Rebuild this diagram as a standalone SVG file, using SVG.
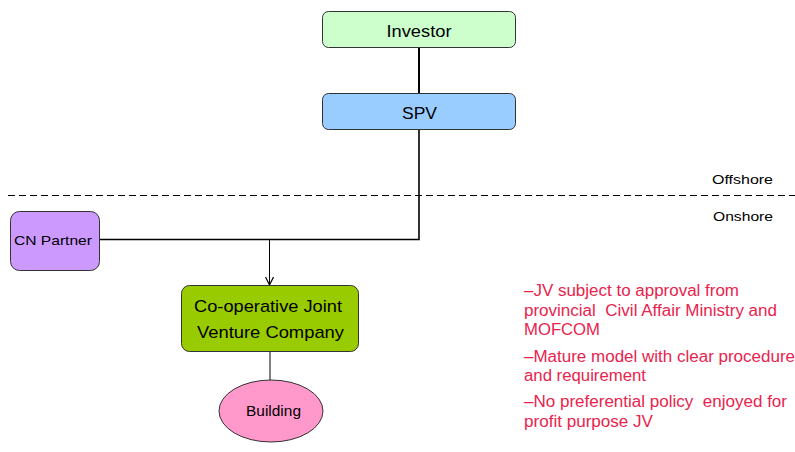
<svg xmlns="http://www.w3.org/2000/svg" width="795" height="452" viewBox="0 0 795 452">
  <style>
    .box { stroke: #333333; stroke-width: 1; }
    .lbl { font-family: "Liberation Sans", Arial, sans-serif; fill: #000000; text-anchor: middle; }
    .note { font-family: "Liberation Sans", Arial, sans-serif; fill: #e8244e; font-size: 16px; white-space: pre; }
    .zone { font-family: "Liberation Sans", Arial, sans-serif; fill: #000000; font-size: 13.5px; text-anchor: end; }
    .wire { fill: none; stroke: #000000; }
  </style>
  <defs>
    <marker id="openArrow" viewBox="0 0 10 10" refX="9" refY="5" markerWidth="10" markerHeight="10" markerUnits="userSpaceOnUse" orient="auto">
      <path d="M1,1 L9,5 L1,9" fill="none" stroke="#000000" stroke-width="1.2"/>
    </marker>
  </defs>
  <rect width="795" height="452" fill="#ffffff"/>

  <!-- offshore / onshore boundary -->
  <line x1="8" y1="195.5" x2="795" y2="195.5" stroke="#000000" stroke-width="1.2" stroke-dasharray="7,4"/>
  <text class="zone" x="773" y="184" textLength="61" lengthAdjust="spacingAndGlyphs">Offshore</text>
  <text class="zone" x="773" y="221" textLength="60" lengthAdjust="spacingAndGlyphs">Onshore</text>

  <g id="connectors">
    <line class="wire" x1="419" y1="47" x2="419" y2="93" stroke-width="2"/>
    <polyline class="wire" points="419,129 419,239.5 100,239.5" stroke-width="1.6"/>
    <line class="wire" x1="269.5" y1="239.5" x2="269.5" y2="285" stroke-width="1" marker-end="url(#openArrow)"/>
    <line class="wire" x1="270" y1="351" x2="270" y2="391" stroke-width="1"/>
  </g>

  <g id="investor">
    <rect class="box" x="322.5" y="11.5" width="193" height="36" rx="6" fill="#ccffcc"/>
    <text class="lbl" x="419" y="37" font-size="16.5" textLength="65" lengthAdjust="spacingAndGlyphs">Investor</text>
  </g>

  <g id="spv">
    <rect class="box" x="322.5" y="93.5" width="193" height="36" rx="6" fill="#99ccff"/>
    <text class="lbl" x="419.5" y="119" font-size="16.5" textLength="35" lengthAdjust="spacingAndGlyphs">SPV</text>
  </g>

  <g id="cn-partner">
    <rect class="box" x="10.5" y="211.5" width="89" height="59" rx="9" fill="#cc99ff"/>
    <text class="lbl" x="53" y="245" font-size="13.5" textLength="78" lengthAdjust="spacingAndGlyphs">CN Partner</text>
  </g>

  <g id="jv-company">
    <rect class="box" x="181.5" y="285.5" width="177" height="66" rx="8" fill="#99cc00"/>
    <text class="lbl" x="268" y="312" font-size="17" textLength="148" lengthAdjust="spacingAndGlyphs">Co-operative Joint</text>
    <text class="lbl" x="270.5" y="338" font-size="17" textLength="147" lengthAdjust="spacingAndGlyphs">Venture Company</text>
  </g>

  <g id="building">
    <ellipse class="box" cx="271" cy="411" rx="52" ry="31" fill="#ff99cc"/>
    <text class="lbl" x="273.5" y="416" font-size="14" textLength="55" lengthAdjust="spacingAndGlyphs">Building</text>
  </g>

  <g id="notes">
    <text class="note" x="524" y="296" textLength="215" lengthAdjust="spacingAndGlyphs">–JV subject to approval from</text>
    <text class="note" x="524" y="316" textLength="253" lengthAdjust="spacingAndGlyphs" xml:space="preserve">provincial  Civil Affair Ministry and</text>
    <text class="note" x="524" y="335" textLength="76" lengthAdjust="spacingAndGlyphs">MOFCOM</text>
    <text class="note" x="524" y="362" textLength="271" lengthAdjust="spacingAndGlyphs">–Mature model with clear procedure</text>
    <text class="note" x="524" y="381" textLength="122" lengthAdjust="spacingAndGlyphs">and requirement</text>
    <text class="note" x="524" y="407" textLength="263" lengthAdjust="spacingAndGlyphs" xml:space="preserve">–No preferential policy  enjoyed for</text>
    <text class="note" x="524" y="427" textLength="129" lengthAdjust="spacingAndGlyphs">profit purpose JV</text>
  </g>
</svg>
